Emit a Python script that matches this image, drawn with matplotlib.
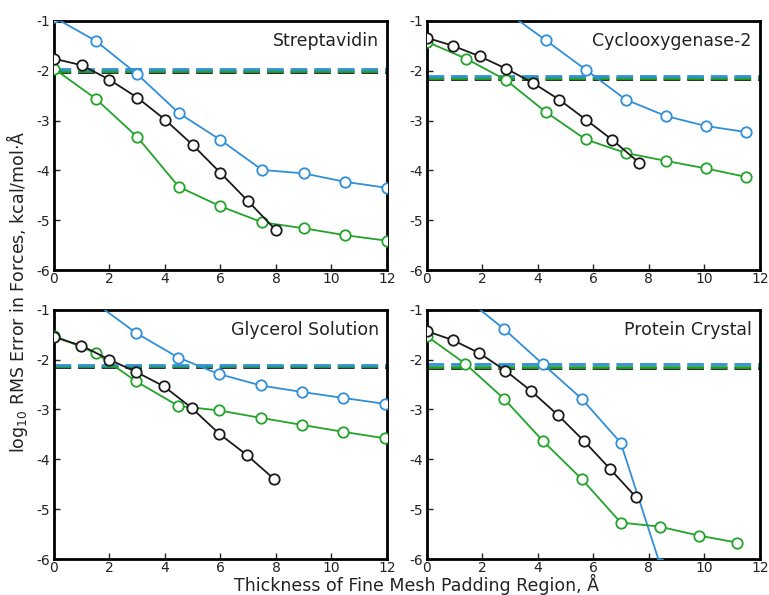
import numpy as np
import matplotlib.pyplot as plt

# panel titles
titles = ['Streptavidin', 'Cyclooxygenase-2', 'Glycerol Solution', 'Protein Crystal']

# blue series (x, y) per panel
blue_x = [[0, 1.5, 3, 4.5, 6, 7.5, 9, 10.5, 12],
          [2.87, 4.29, 5.73, 7.17, 8.62, 10.06, 11.5],
          [1.5, 2.97, 4.48, 5.94, 7.46, 8.93, 10.43, 11.94],
          [1.4, 2.79, 4.18, 5.59, 6.99, 8.4]]
blue_y = [[-0.93, -1.40, -2.07, -2.85, -3.39, -3.99, -4.06, -4.23, -4.35],
          [-0.82, -1.39, -1.98, -2.58, -2.91, -3.11, -3.23],
          [-0.87, -1.47, -1.96, -2.29, -2.52, -2.65, -2.77, -2.89],
          [-0.77, -1.39, -2.09, -2.79, -3.67, -6.1]]

# black series
black_x = [[0, 1, 2, 3, 4, 5, 6, 7, 8],
           [0, 0.94, 1.90, 2.86, 3.81, 4.77, 5.73, 6.69, 7.66],
           [0, 0.99, 1.99, 2.97, 3.97, 4.96, 5.96, 6.94, 7.94],
           [0, 0.94, 1.89, 2.83, 3.76, 4.72, 5.66, 6.60, 7.54]]
black_y = [[-1.76, -1.89, -2.18, -2.54, -2.98, -3.49, -4.05, -4.62, -5.20],
           [-1.34, -1.50, -1.71, -1.96, -2.24, -2.58, -2.98, -3.39, -3.85],
           [-1.55, -1.72, -2.00, -2.25, -2.54, -2.97, -3.49, -3.91, -4.40],
           [-1.43, -1.61, -1.87, -2.22, -2.63, -3.11, -3.63, -4.19, -4.76]]

# green series
green_x = [[0, 1.5, 3, 4.5, 6, 7.5, 9, 10.5, 12],
           [0, 1.42, 2.86, 4.29, 5.73, 7.17, 8.62, 10.06, 11.5],
           [0, 1.5, 2.97, 4.48, 5.94, 7.46, 8.93, 10.43, 11.94],
           [0, 1.38, 2.79, 4.18, 5.59, 6.99, 8.39, 9.80, 11.18]]
green_y = [[-1.96, -2.56, -3.33, -4.33, -4.72, -5.04, -5.16, -5.30, -5.41],
           [-1.42, -1.76, -2.19, -2.83, -3.38, -3.65, -3.81, -3.96, -4.13],
           [-1.52, -1.87, -2.44, -2.93, -3.02, -3.17, -3.31, -3.45, -3.58],
           [-1.53, -2.08, -2.79, -3.63, -4.40, -5.27, -5.35, -5.53, -5.67]]

# reference levels (dashed)
ref_blue = [-1.97, -2.11, -2.10, -2.08]
ref_green = [-2.00, -2.14, -2.13, -2.15]
ref_black = [-2.03, -2.16, -2.15, -2.17]

c_blue = '#2f8fd8'
c_green = '#22a32a'
c_black = '#1a1a1a'

fig = plt.figure(figsize=(7.69, 5.95), dpi=100)
lefts = [0.0702, 0.555, 0.0702, 0.555]
bottoms = [0.546, 0.546, 0.0605, 0.0605]
w, h = 0.433, 0.419

for i in range(4):
    ax = fig.add_axes([lefts[i], bottoms[i], w, h])
    for yv, c in [(ref_black[i], c_black), (ref_green[i], c_green), (ref_blue[i], c_blue)]:
        ax.axhline(yv, color=c, lw=2, ls=(0, (6, 2.5)), zorder=1)
    for xs, ys, c in [(blue_x[i], blue_y[i], c_blue),
                      (green_x[i], green_y[i], c_green),
                      (black_x[i], black_y[i], c_black)]:
        ax.plot(xs, ys, color=c, lw=1.3, marker='o', ms=7.5, mfc='white',
                mec=c, mew=1.3, zorder=3)
    ax.set_xlim(0, 12)
    ax.set_ylim(-6, -1)
    ax.set_xticks(range(0, 13, 2))
    ax.set_yticks(range(-6, 0))
    ax.set_yticklabels([str(v) for v in range(-6, 0)])
    ax.tick_params(direction='in', length=4, width=1, labelsize=10, pad=3, colors='#222222')
    ax.tick_params(axis='x', pad=1.5)
    for s in ax.spines.values():
        s.set_linewidth(2)
    ax.text(0.975, 0.955, titles[i], transform=ax.transAxes, ha='right', va='top',
            fontsize=12.5, color='#222222')

fig.text(0.542, 0.0, 'Thickness of Fine Mesh Padding Region, Å', ha='center', va='bottom',
         fontsize=12.5, color='#222222')
fig.text(0.022, 0.51, r'log$_{10}$ RMS Error in Forces, kcal/mol·Å', rotation=90,
         ha='center', va='center', fontsize=12.5, color='#222222')

fig.savefig('out.png', dpi=100)
